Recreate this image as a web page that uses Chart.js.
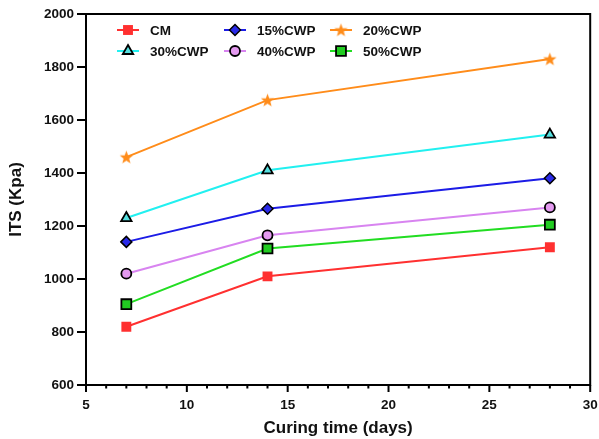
<!DOCTYPE html>
<html>
<head>
<meta charset="utf-8">
<script src="https://cdn.jsdelivr.net/npm/chart.js@4/dist/chart.umd.min.js"></script>
<style>
html,body{margin:0;padding:0;background:#fff;}
#wrap{width:599px;height:439px;position:relative;}
</style>
</head>
<body>
<div id="wrap"><canvas id="c" width="599" height="439"></canvas></div>
<script>
// ---- data ----
const days = [7, 14, 28];
const seriesNames = ['CM', '15%CWP', '20%CWP', '30%CWP', '40%CWP', '50%CWP'];
const cm     = [820, 1010, 1120];
const cwp15  = [1140, 1265, 1380];
const cwp20  = [1460, 1675, 1830];
const cwp30  = [1230, 1410, 1545];
const cwp40  = [1020, 1165, 1270];
const cwp50  = [905, 1115, 1205];
const xTicks = [5, 10, 15, 20, 25, 30];
const yTicks = [600, 800, 1000, 1200, 1400, 1600, 1800, 2000];

const seriesValues = [cm, cwp15, cwp20, cwp30, cwp40, cwp50];

// five-pointed filled star marker
function makeStar(color) {
  const c = document.createElement('canvas');
  c.width = 15; c.height = 15;
  const g = c.getContext('2d');
  g.fillStyle = color;
  g.beginPath();
  for (let k = 0; k < 10; k++) {
    const r = (k % 2 === 0) ? 7 : 2.9;
    const a = -Math.PI / 2 + k * Math.PI / 5;
    const px = 7.5 + r * Math.cos(a), py = 8 + r * Math.sin(a);
    if (k === 0) g.moveTo(px, py); else g.lineTo(px, py);
  }
  g.closePath();
  g.fill();
  return c;
}
const starImg = makeStar('#ff8c1a');

const styles = [
  {line:'#ff3030', fill:'#ff3030', border:'#ff3030', style:'rect', r:7, bw:0},
  {line:'#1c1ce6', fill:'#2a2ae8', border:'#000', style:'rectRot', r:5.5, bw:1.5},
  {line:'#ff8c1a', fill:'#ff8c1a', border:'#ff8c1a', style:starImg, r:6, bw:0},
  {line:'#22f0f0', fill:'#55e0e0', border:'#000', style:'triangle', r:6, bw:1.8},
  {line:'#d884f0', fill:'#e49af0', border:'#000', style:'circle', r:5, bw:1.8},
  {line:'#22dd22', fill:'#22cc22', border:'#000', style:'rect', r:7, bw:1.8}
];

const datasets = seriesNames.map((name, i) => ({
  label: name,
  data: days.map((d, j) => ({x: d, y: seriesValues[i][j]})),
  borderColor: styles[i].line,
  borderWidth: 2,
  pointStyle: styles[i].style,
  pointRadius: styles[i].r,
  pointBackgroundColor: styles[i].fill,
  pointBorderColor: styles[i].border,
  pointBorderWidth: styles[i].bw,
  fill: false,
  tension: 0
}));

const FONT = '"Liberation Sans", Arial, sans-serif';

const framePlugin = {
  id: 'frame',
  afterDraw(chart) {
    const ctx = chart.ctx;
    const a = chart.chartArea;
    const xs = chart.scales.x, ys = chart.scales.y;
    ctx.save();
    ctx.strokeStyle = '#000';
    ctx.lineWidth = 2;
    ctx.strokeRect(a.left, a.top, a.right - a.left, a.bottom - a.top);
    ctx.beginPath();
    for (let v = xs.min; v <= xs.max; v++) {
      const px = xs.getPixelForValue(v);
      const len = (v % 5 === 0) ? 7 : 3.5;
      ctx.moveTo(px, a.bottom);
      ctx.lineTo(px, a.bottom + len);
    }
    yTicks.forEach(v => {
      const py = ys.getPixelForValue(v);
      ctx.moveTo(a.left - 9, py);
      ctx.lineTo(a.left, py);
    });
    ctx.stroke();

    // legend inside plot
    const cols = [117, 224, 330];
    const rows = [30, 51];
    ctx.font = 'bold 13.5px ' + FONT;
    ctx.textBaseline = 'middle';
    ctx.textAlign = 'left';
    chart.data.datasets.forEach((ds, i) => {
      const cx = cols[i % 3], cy = rows[Math.floor(i / 3)];
      ctx.strokeStyle = ds.borderColor;
      ctx.lineWidth = 2;
      ctx.beginPath();
      ctx.moveTo(cx, cy);
      ctx.lineTo(cx + 22, cy);
      ctx.stroke();
      ctx.fillStyle = ds.pointBackgroundColor;
      ctx.strokeStyle = ds.pointBorderColor;
      ctx.lineWidth = ds.pointBorderWidth;
      Chart.helpers.drawPoint(ctx, {pointStyle: ds.pointStyle, radius: ds.pointRadius, borderWidth: ds.pointBorderWidth, rotation: 0}, cx + 11, cy);
      ctx.fillStyle = '#111';
      ctx.fillText(ds.label, cx + 33, cy + 1);
    });
    ctx.restore();
  }
};

new Chart(document.getElementById('c'), {
  type: 'line',
  data: {datasets},
  options: {
    responsive: false,
    animation: false,
    layout: {padding: {top: 14, right: 8, left: 0, bottom: 0}},
    plugins: {legend: {display: false}, tooltip: {enabled: false}},
    scales: {
      x: {
        type: 'linear',
        min: 5, max: 30,
        afterBuildTicks: s => { s.ticks = xTicks.map(v => ({value: v})); },
        grid: {display: false, drawTicks: false},
        border: {display: false},
        ticks: {padding: 12, color: '#111', font: {family: FONT, size: 13.5, weight: 'bold'}, maxRotation: 0, callback: v => String(v)},
        title: {display: true, text: 'Curing time (days)', color: '#111', padding: {top: 4, bottom: 0}, font: {family: FONT, size: 17, weight: 'bold'}},
        afterFit: s => { s.height = 54; s.paddingLeft = 0; s.paddingRight = 0; }
      },
      y: {
        min: 600, max: 2000,
        afterBuildTicks: s => { s.ticks = yTicks.map(v => ({value: v})); },
        grid: {display: false, drawTicks: false},
        border: {display: false},
        ticks: {padding: 12, color: '#111', font: {family: FONT, size: 13.5, weight: 'bold'}, callback: v => String(v)},
        title: {display: true, text: 'ITS (Kpa)', color: '#111', padding: {top: 6, bottom: 0}, font: {family: FONT, size: 17, weight: 'bold'}},
        afterFit: s => { s.width = 86; s.paddingTop = 0; s.paddingBottom = 0; }
      }
    }
  },
  plugins: [framePlugin]
});
</script>
</body>
</html>
